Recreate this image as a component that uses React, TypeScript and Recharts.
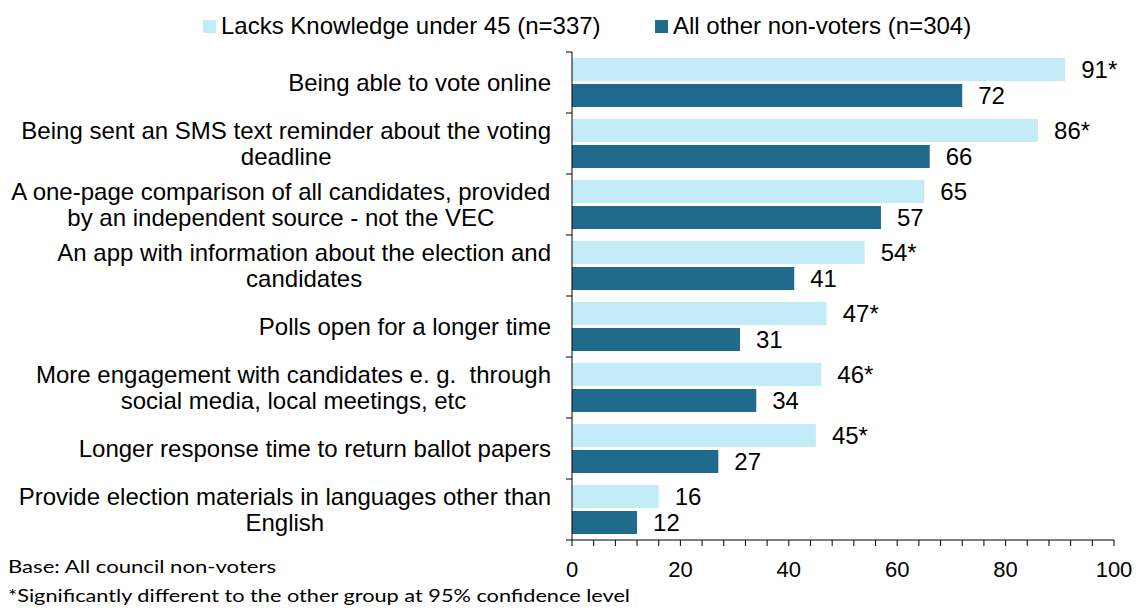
import { BarChart, Bar, XAxis, YAxis, LabelList } from 'recharts'

const categories = [
  'Being able to vote online',
  'Being sent an SMS text reminder about the voting\ndeadline',
  'A one-page comparison of all candidates, provided\nby an independent source - not the VEC',
  'An app with information about the election and\ncandidates',
  'Polls open for a longer time',
  'More engagement with candidates e. g.  through\nsocial media, local meetings, etc',
  'Longer response time to return ballot papers',
  'Provide election materials in languages other than\nEnglish',
]
const lacksKnowledge = [91, 86, 65, 54, 47, 46, 45, 16]
const otherNonVoters = [72, 66, 57, 41, 31, 34, 27, 12]
const significant = [true, true, false, true, true, true, true, false]
const xTicks = [0, 4, 8, 12, 16, 20, 24, 28, 32, 36, 40, 44, 48, 52, 56, 60, 64, 68, 72, 76, 80, 84, 88, 92, 96, 100]
const xLabels = [0, 20, 40, 60, 80, 100]
const footnotes = [
  'Base: All council non-voters',
  '*Significantly different to the other group at 95% confidence level',
]

const LIGHT = '#c4ecf8'
const DARK = '#206a8e'
const FONT = '"Liberation Sans", Arial, sans-serif'
const LABEL_SIZE = 24

const data = categories.map((label, i) => ({
  label,
  lacks: lacksKnowledge[i],
  others: otherNonVoters[i],
  sig: significant[i],
}))

let ctx: CanvasRenderingContext2D | null = null
function measure(text: string) {
  if (!ctx) {
    ctx = document.createElement('canvas').getContext('2d')
    if (ctx) ctx.font = `${LABEL_SIZE}px ${FONT}`
  }
  return ctx ? ctx.measureText(text).width : text.length * 12
}

const BAND = (540 - 52) / categories.length

function CategoryTick(props: any) {
  const { x, y, payload, index } = props
  const lines: string[] = String(payload.value).split('\n')
  const maxW = Math.max(...lines.map(measure))
  const cx = x - 21 - maxW / 2
  const lh = 26.5
  const y0 = y - ((lines.length - 1) * lh) / 2
  return (
    <g>
      <line x1={x - 6} x2={x} y1={y - BAND / 2} y2={y - BAND / 2} stroke="#000" />
      {index === categories.length - 1 && (
        <line x1={x - 6} x2={x} y1={y + BAND / 2} y2={y + BAND / 2} stroke="#000" />
      )}
      {lines.map((ln, i) => (
        <text
          key={i}
          x={cx}
          y={y0 + i * lh}
          dy="0.36em"
          textAnchor="middle"
          fontFamily={FONT}
          fontSize={LABEL_SIZE}
          fill="#000"
          style={{ whiteSpace: 'pre' }}
        >
          {ln}
        </text>
      ))}
    </g>
  )
}

function ValueTick(props: any) {
  const { x, y, payload } = props
  const v = payload.value
  return (
    <g>
      <line x1={x} x2={x} y1={y} y2={y + 6} stroke="#000" />
      {xLabels.includes(v) && (
        <text x={x} y={y + 29} dy="0.36em" textAnchor="middle" fontFamily={FONT} fontSize={22} fill="#000">
          {v}
        </text>
      )}
    </g>
  )
}

function makeLabel(withStar: boolean) {
  return (props: any) => {
    const { x, y, width, height, value, index } = props
    const star = withStar && data[index]?.sig ? '*' : ''
    return (
      <text
        x={x + width + 16}
        y={y + height / 2}
        dy="0.36em"
        fontFamily={FONT}
        fontSize={LABEL_SIZE}
        fill="#000"
      >
        {value + star}
      </text>
    )
  }
}

function LegendRow() {
  const item = (color: string, text: string, left: number) => (
    <div style={{ position: 'absolute', left, top: 12, display: 'flex', alignItems: 'center', whiteSpace: 'nowrap' }}>
      <span style={{ width: 13, height: 13, background: color, display: 'inline-block', marginRight: 5 }} />
      <span style={{ fontFamily: FONT, fontSize: LABEL_SIZE, color: '#000', lineHeight: '28px' }}>{text}</span>
    </div>
  )
  return (
    <>
      {item(LIGHT, 'Lacks Knowledge under 45 (n=337)', 203)}
      {item(DARK, 'All other non-voters (n=304)', 655)}
    </>
  )
}

function Footnotes() {
  const widths = [268, 622]
  return (
    <svg width={700} height={60} style={{ position: 'absolute', left: 0, top: 552 }}>
      {footnotes.map((t, i) => (
        <text
          key={i}
          x={8}
          y={15 + i * 29}
          dy="0.35em"
          fontFamily='Lato, "Open Sans", sans-serif'
          fontSize={18}
          fill="#000"
          textLength={widths[i]}
          lengthAdjust="spacingAndGlyphs"
        >
          {t}
        </text>
      ))}
    </svg>
  )
}

export default function App() {
  return (
    <div style={{ position: 'absolute', left: 0, top: 0, width: 1139, height: 610, background: '#fff' }}>
      <BarChart
        width={1139}
        height={610}
        data={data}
        layout="vertical"
        margin={{ top: 52, right: 25, bottom: 40, left: 0 }}
        barSize={23}
        barGap={3}
      >
        <XAxis
          type="number"
          domain={[0, 100]}
          ticks={xTicks}
          interval={0}
          tick={<ValueTick />}
          tickLine={false}
          tickSize={0}
          tickMargin={0}
          axisLine={{ stroke: '#000' }}
          height={30}
        />
        <YAxis
          type="category"
          dataKey="label"
          width={572}
          interval={0}
          tick={<CategoryTick />}
          tickLine={false}
          tickSize={0}
          tickMargin={0}
          axisLine={{ stroke: '#000' }}
        />
        <Bar dataKey="lacks" fill={LIGHT} isAnimationActive={false}>
          <LabelList dataKey="lacks" content={makeLabel(true)} />
        </Bar>
        <Bar dataKey="others" fill={DARK} isAnimationActive={false}>
          <LabelList dataKey="others" content={makeLabel(false)} />
        </Bar>
      </BarChart>
      <LegendRow />
      <Footnotes />
    </div>
  )
}
